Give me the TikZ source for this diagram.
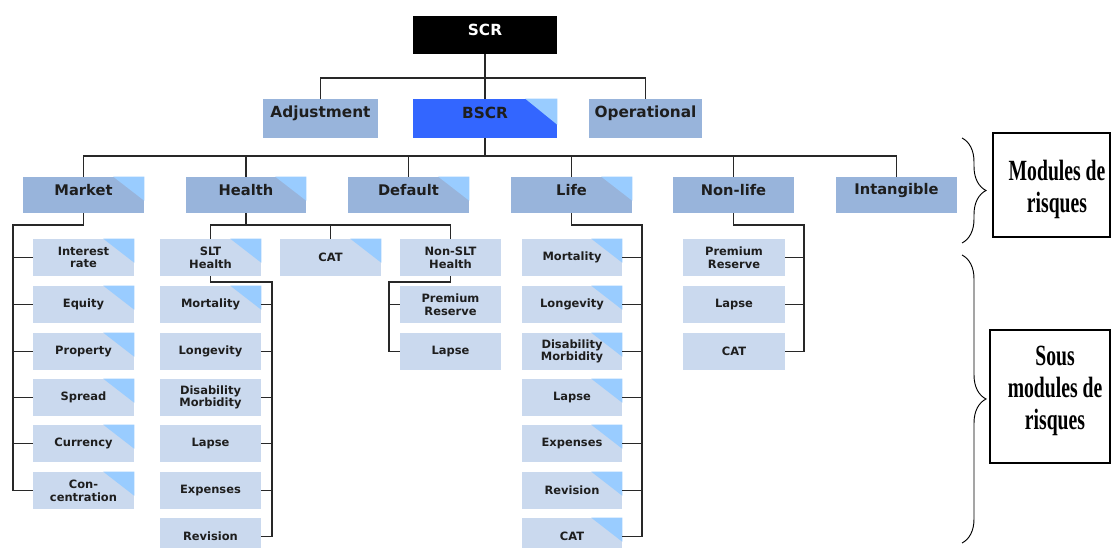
\documentclass[tikz,border=0pt]{standalone}
\usepackage{fontspec}
\usetikzlibrary{fit,decorations.pathreplacing}
\newfontfamily\djv{DejaVu Sans}
\newfontfamily\tms{Liberation Serif}
\definecolor{modc}{RGB}{152,180,219}
\definecolor{subc}{RGB}{202,217,238}
\definecolor{tric}{RGB}{153,204,255}
\definecolor{bscrc}{RGB}{51,102,255}
\definecolor{linec}{RGB}{40,40,40}
\definecolor{txtc}{RGB}{30,30,30}
\tikzset{
 bxbase/.style={inner sep=0pt, draw=none},
 modbox/.style={bxbase, fill=modc},
 subbox/.style={bxbase, fill=subc},
 sublbl/.style={font=\djv\bfseries\fontsize{8.6}{9.5}\selectfont, text=txtc, align=center, inner sep=0pt},
 toplbl/.style={font=\djv\bfseries\fontsize{11.5}{12}\selectfont, text=txtc, yshift=4pt},
 modlbl/.style={font=\djv\bfseries\fontsize{11}{12}\selectfont, text=txtc, yshift=3.5pt},
 conn/.style={draw=linec, line width=1.1pt},
 sidebox/.style={draw=black, line width=1pt},
 sidetxt/.style={font=\tms\bfseries\fontsize{22}{24}\selectfont, align=center},
 brc/.style={draw=black, line width=0.7pt, decorate, decoration={brace, amplitude=18pt}},
}
% #1 name, #2-#5 corners (px), #6 box style, #7 label style, #8 text
\newcommand\bx[8]{\node[#6, fit={(#2,#3) (#4,#5)}, label={[#7]center:{#8}}] (#1) {};}
\newcommand\tri[1]{\fill[tric] ([xshift=-23.25pt]#1.north east) -- (#1.north east) -- ([yshift=-18pt]#1.north east) -- cycle;}
\begin{document}
\begin{tikzpicture}[x=0.75pt,y=-0.75pt]
\clip (0,0) rectangle (1113,548);
% top level
\bx{scr}{413}{16}{557}{54}{bxbase, fill=black}{toplbl, text=white}{SCR}
\bx{adj}{263}{99}{378}{138}{modbox}{toplbl}{Adjustment}
\bx{bscr}{413}{99}{557}{138}{bxbase, fill=bscrc}{toplbl}{BSCR}
\bx{op}{589}{99}{702}{138}{modbox}{toplbl}{Operational}
\fill[tric] ([xshift=-24pt]bscr.north east) -- (bscr.north east) -- ([yshift=-19.5pt]bscr.north east) -- cycle;
% modules
\bx{market}{23}{177}{144}{213}{modbox}{modlbl}{Market}
\bx{health}{186}{177}{306}{213}{modbox}{modlbl}{Health}
\bx{default}{348}{177}{469}{213}{modbox}{modlbl}{Default}
\bx{life}{511}{177}{632}{213}{modbox}{modlbl}{Life}
\bx{nonlife}{673}{177}{794}{213}{modbox}{modlbl}{Non-life}
\bx{intang}{836}{177}{957}{213}{modbox}{modlbl}{Intangible}
\tri{market}\tri{health}\tri{default}\tri{life}
% market subs
\bx{ir}{33}{239}{134}{276}{subbox}{sublbl}{Interest\\rate}
\bx{eq}{33}{286}{134}{323}{subbox}{sublbl}{Equity}
\bx{prop}{33}{333}{134}{370}{subbox}{sublbl}{Property}
\bx{spr}{33}{379}{134}{416}{subbox}{sublbl}{Spread}
\bx{cur}{33}{425}{134}{462}{subbox}{sublbl}{Currency}
\bx{conc}{33}{472}{134}{509}{subbox}{sublbl}{Con-\\centration}
\tri{ir}\tri{eq}\tri{prop}\tri{spr}\tri{cur}\tri{conc}
% health subs
\bx{slt}{160}{239}{261}{276}{subbox}{sublbl}{SLT\\Health}
\bx{hcat}{280}{239}{381}{276}{subbox}{sublbl}{CAT}
\bx{nslt}{400}{239}{501}{276}{subbox}{sublbl}{Non-SLT\\Health}
\tri{slt}\tri{hcat}
\bx{smort}{160}{286}{261}{323}{subbox}{sublbl}{Mortality}
\bx{slong}{160}{333}{261}{370}{subbox}{sublbl}{Longevity}
\bx{sdis}{160}{379}{261}{416}{subbox}{sublbl}{Disability\\Morbidity}
\bx{slapse}{160}{425}{261}{462}{subbox}{sublbl}{Lapse}
\bx{sexp}{160}{472}{261}{509}{subbox}{sublbl}{Expenses}
\bx{srev}{160}{518}{261}{555}{subbox}{sublbl}{Revision}
\tri{smort}
\bx{nprem}{400}{286}{501}{323}{subbox}{sublbl}{Premium\\Reserve}
\bx{nlapse}{400}{333}{501}{370}{subbox}{sublbl}{Lapse}
% life subs
\bx{lmort}{522}{239}{622}{276}{subbox}{sublbl}{Mortality}
\bx{llong}{522}{286}{622}{323}{subbox}{sublbl}{Longevity}
\bx{ldis}{522}{333}{622}{370}{subbox}{sublbl}{Disability\\Morbidity}
\bx{llapse}{522}{379}{622}{416}{subbox}{sublbl}{Lapse}
\bx{lexp}{522}{425}{622}{462}{subbox}{sublbl}{Expenses}
\bx{lrev}{522}{472}{622}{509}{subbox}{sublbl}{Revision}
\bx{lcat}{522}{518}{622}{555}{subbox}{sublbl}{CAT}
\tri{lmort}\tri{llong}\tri{ldis}\tri{llapse}\tri{lexp}\tri{lrev}\tri{lcat}
% non-life subs
\bx{nlprem}{683}{239}{785}{276}{subbox}{sublbl}{Premium\\Reserve}
\bx{nllapse}{683}{286}{785}{323}{subbox}{sublbl}{Lapse}
\bx{nlcat}{683}{333}{785}{370}{subbox}{sublbl}{CAT}
% bus coordinates
\coordinate (b1) at (485,78);
\coordinate (b2) at (485,156);
\coordinate (mkb) at (13,225);
\coordinate (hb) at (246,225);
\coordinate (sb) at (272,282);
\coordinate (nsb) at (389,282);
\coordinate (lb) at (642,225);
\coordinate (nlb) at (804,225);
% connectors
\draw[conn] (scr.south) -- (bscr.north);
\draw[conn] (adj.north) |- (b1) -| (op.north);
\draw[conn] (bscr.south) -- (b2);
\draw[conn] (market.north) |- (b2) -| (intang.north);
\foreach \n in {health,default,life,nonlife} \draw[conn] (\n.north) -- (\n.north |- b2);
\draw[conn] (market.south) |- (mkb) |- (conc.west);
\foreach \n in {ir,eq,prop,spr,cur} \draw[conn] (\n.west) -- (\n.west -| mkb);
\draw[conn] (health.south) -- (health.south |- hb);
\draw[conn] (slt.north) |- (hb) -| (nslt.north);
\draw[conn] (hcat.north) -- (hcat.north |- hb);
\draw[conn] (slt.south) |- (sb) |- (srev.east);
\foreach \n in {smort,slong,sdis,slapse,sexp} \draw[conn] (\n.east) -- (\n.east -| sb);
\draw[conn] (nslt.south) |- (nsb) |- (nlapse.west);
\draw[conn] (nprem.west) -- (nprem.west -| nsb);
\draw[conn] (life.south) |- (lb) |- (lcat.east);
\foreach \n in {lmort,llong,ldis,llapse,lexp,lrev} \draw[conn] (\n.east) -- (\n.east -| lb);
\draw[conn] (nonlife.south) |- (nlb) |- (nlcat.east);
\foreach \n in {nlprem,nllapse} \draw[conn] (\n.east) -- (\n.east -| nlb);
% right side
\coordinate (br1a) at (962,138);
\coordinate (br1b) at (962,243);
\coordinate (br2a) at (962,255);
\coordinate (br2b) at (962,543);
\draw[brc] (br1a) -- (br1b);
\draw[brc] (br2a) -- (br2b);
\draw[sidebox] (993,133) rectangle (1110,237);
\draw[sidebox] (990,330) rectangle (1110,463);
\node[sidetxt] (mr) at (1057,190) {\scalebox{0.67}[1]{\begin{tabular}{@{}c@{}}Modules de\\risques\end{tabular}}};
\node[sidetxt] (smr) at (1055,391) {\scalebox{0.67}[1]{\begin{tabular}{@{}c@{}}Sous\\modules de\\risques\end{tabular}}};
\end{tikzpicture}
\end{document}
